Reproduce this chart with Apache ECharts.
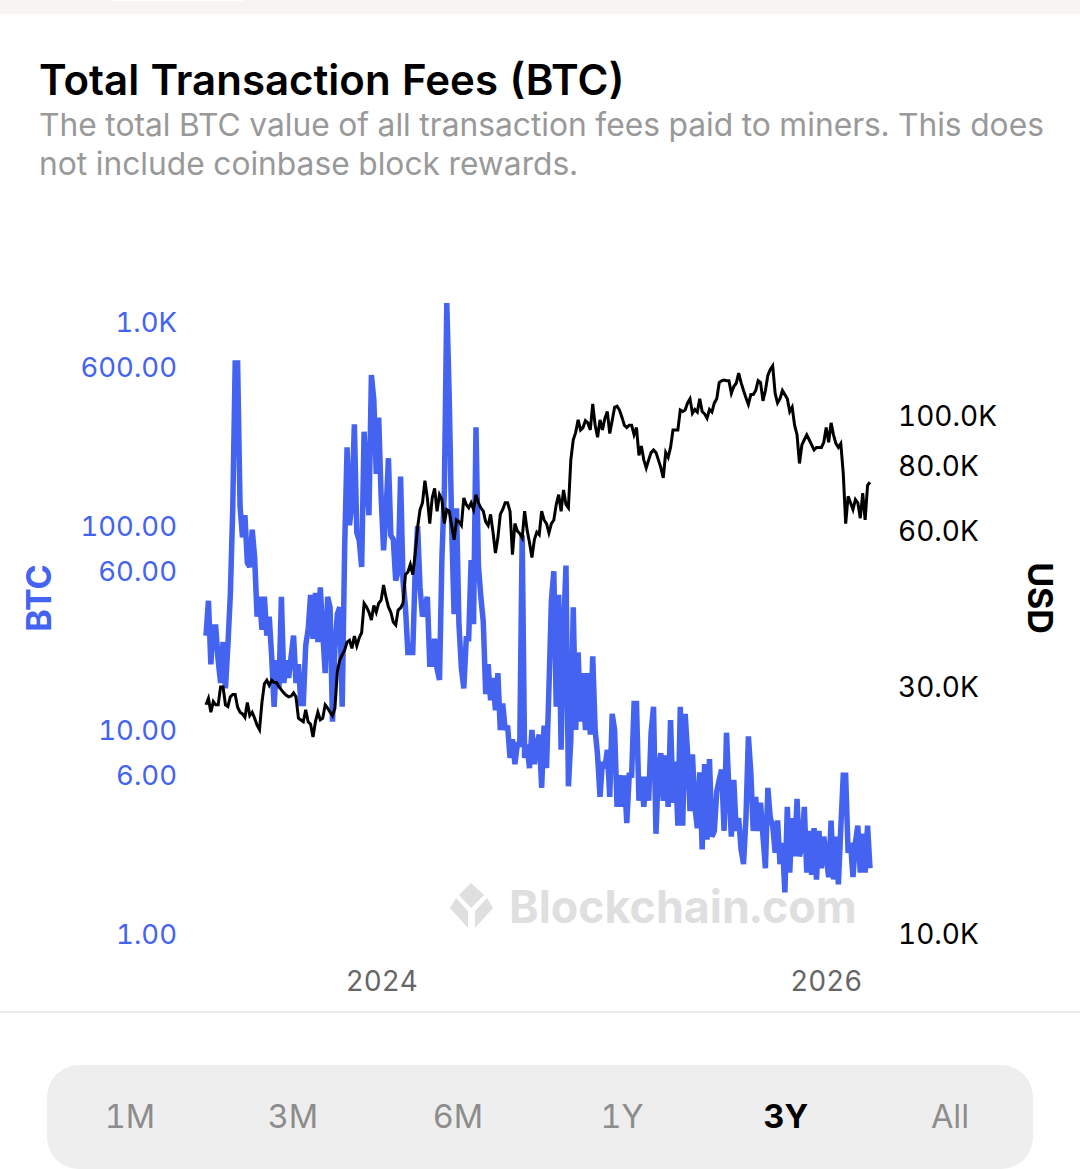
<!DOCTYPE html>
<html>
<head>
<meta charset="utf-8">
<style>
html,body{margin:0;padding:0;background:#fff}
#c{width:1080px;height:1169px}
#c text{font-variant-numeric:tabular-nums !important;font-feature-settings:"tnum" 1 !important}
</style>
<script src="https://cdn.jsdelivr.net/npm/echarts@6/dist/echarts.min.js"></script>
</head>
<body>
<div id="c"></div>
<script>
const title = 'Total Transaction Fees (BTC)';
const subtitle = 'The total BTC value of all transaction fees paid to miners. This does\nnot include coinbase block rewards.';
const rangeLabels = ['1M','3M','6M','1Y','3Y','All'];
const btcTicks = [1,6,10,60,100,600,1000];
const usdTicks = [10000,30000,60000,80000,100000];
const yearTicks = [2024,2026];
const startDate = '2023-03-18';
const stepDays = 4;

const btcFees = [
29,43,21,32,32,22,17,27,16,26,46,122,630,630,125,88,113,66,63,96,70,36,45,31,45,29,36,23,13,22,
16,45,17,22,18,23,29,17,21,13.5,13.5,26,31,46,28,47,27,50,30,19,45,40,11,25,37,40,13,78,243,101,
130,315,93,85,63,290,170,113,550,415,180,340,140,76,115,215,90,86,54,60,175,54,40,24,24,24,60,100,50,36,
40,45,21,21,28,20,17.6,70,150,1240,430,100,37,122,33,20,16,28,28,68,33,305,64,45,34,15,21,14,18,12.5,
19,10,13.5,10,10.5,7.3,9,6.8,8.5,8.5,90,7.3,8.5,6.5,10,6.8,8.5,9.5,5.2,10.5,6.5,16,43,60,13,46,8,30,
64,5.3,9,40,10,24,11,19,10,19,9.5,23,10,7.5,4.7,7,6.5,8,4.7,12,10,4.2,6,4.2,6,3.5,6,6,13.5,13.5,
4.5,5.9,4.2,5.9,4.5,9.7,13,3.1,6.4,7.7,4.5,7.5,4.2,11.2,4.4,7,3.4,13,3.4,12,7.7,4,7.6,4.2,3.3,6.2,2.6,6.8,
2.9,7.2,3,3.2,5,5.7,6.4,3.2,9.7,5,3,5.7,3.2,3.7,2.6,2.2,3.7,9.3,6.2,3.2,4.7,3.2,4.4,3,2.1,5.2,3.7,3.4,
2.5,3.6,2.2,2.8,1.6,4.2,2,3.7,2.4,4.6,2.4,2.7,4.2,2,3.2,1.95,3.3,1.85,3.2,2.1,3,2.4,1.9,3.6,1.85,3,1.75,3.3,
6,6,2.5,2.8,1.9,2.8,3.4,2,3.1,2,3.4,2.1
];

const btcPriceUsd = [
27700,28500,26800,28100,27700,27700,30000,30000,27700,27500,28700,29000,29000,27400,26800,26600,26200,28000,26400,26800,
26100,25300,24800,28000,30400,30900,30200,30900,30600,30600,30000,29600,29200,28900,28700,28800,29200,28700,26100,25900,
25700,27100,25700,25400,24000,25700,26800,25900,26100,27700,27300,26800,26400,27300,32100,33800,34600,35300,36600,36900,
35600,37600,36000,37300,38200,43500,42800,41800,40400,43100,41800,43500,44100,47200,44700,42800,41800,40000,39500,42200,
42600,43500,49400,50000,51700,49400,54000,61000,65900,68000,75000,69500,62000,69500,72500,65500,70500,69000,62000,66000,
65500,61500,57700,63000,62500,61500,69500,67500,66500,68000,66000,70500,68000,66500,65500,62500,61500,64600,59700,54400,
58200,64600,66000,68000,68000,65500,54000,62000,60000,59300,58200,65500,60300,57000,53300,57700,59700,59000,65500,63000,
62000,59500,62000,63000,67500,70500,65500,72000,67500,66500,82300,90000,93000,98300,94000,95000,98000,97000,94000,105500,
96000,91000,98300,94000,99000,102000,92500,98000,104000,104500,102700,99500,96000,95000,96000,96000,92000,95000,84000,87500,
82300,79400,82300,85000,86000,85000,82300,79500,76000,85000,83200,87000,94000,94000,94000,102700,102000,102700,106000,108000,
101300,103000,101800,108000,102000,101000,99000,103000,101800,106000,108000,116000,117000,117400,117000,117000,110600,114000,115700,121000,
116000,112000,108500,105300,110000,110000,112000,117000,116000,107000,112000,119800,123000,125000,110600,106000,108000,112000,110000,108000,
102000,104000,96000,92000,81000,88000,90000,92000,90000,88000,86000,87000,87000,86900,89000,95000,89000,97000,92000,88500,
87000,88500,77600,62000,70000,68000,66000,69000,68000,63500,71000,63000,73500,74500
];

const fontFamily = 'Inter, "Noto Sans", sans-serif';
const blue = '#4463f0';
const DAY = 86400000;
const t0 = new Date(startDate + 'T00:00:00').getTime();
const dates = btcFees.map((_, i) => t0 + i * stepDays * DAY);
const btcData = btcFees.map((v, i) => [dates[i], v]);
const usdData = btcPriceUsd.map((v, i) => [dates[i], v]);
const fmtBtc = v => v >= 1000 ? (v / 1000).toFixed(1) + 'K' : Number(v).toFixed(2);
const fmtUsd = v => (v / 1000).toFixed(1) + 'K';
const fmtYear = v => {
  const d = new Date(v);
  return (d.getMonth() === 0 && d.getDate() === 1 && yearTicks.includes(d.getFullYear())) ? String(d.getFullYear()) : '';
};

const rangeX = [130,293,458,622,786,950];
const graphicEls = [
  {type:'rect', silent:true, z:-10, shape:{x:0,y:0,width:1080,height:14}, style:{fill:'#f6f5f3'}},
  {type:'rect', silent:true, z:-9, shape:{x:110,y:-8,width:135,height:9,r:4}, style:{fill:'#ffffff'}},
  {type:'rect', silent:true, z:-10, shape:{x:0,y:1011,width:1080,height:2}, style:{fill:'#ececec'}},
  {type:'rect', silent:true, z:-10, shape:{x:47,y:1065,width:986,height:104,r:[32,32,32,32]}, style:{fill:'#eeeeee'}},
  {type:'text', silent:true, x:39, y:79, style:{text:title, font:'600 42px '+fontFamily, fill:'#000', textVerticalAlign:'middle'}},
  {type:'text', silent:true, x:39, y:144, style:{text:subtitle, font:'400 31.75px '+fontFamily, fill:'#999999', lineHeight:39, textVerticalAlign:'middle'}},
  {type:'text', silent:true, x:38, y:598, rotation:Math.PI/2, style:{text:'BTC', font:'700 34px '+fontFamily, fill:blue, textAlign:'center', textVerticalAlign:'middle'}},
  {type:'text', silent:true, x:1040, y:598, rotation:-Math.PI/2, style:{text:'USD', font:'700 34px '+fontFamily, fill:'#000', textAlign:'center', textVerticalAlign:'middle'}},
  {type:'polygon', silent:true, z:-5, shape:{points:[[471,883],[484,895],[471,908],[459,895]]}, style:{fill:'#dfdfdf'}},
  {type:'polygon', silent:true, z:-5, shape:{points:[[456,898],[468,911],[468,928],[450,908]]}, style:{fill:'#dfdfdf'}},
  {type:'polygon', silent:true, z:-5, shape:{points:[[487,898],[475,911],[475,928],[493,908]]}, style:{fill:'#dfdfdf'}},
  {type:'text', silent:true, z:-5, x:509, y:907, style:{text:'Blockchain.com', font:'700 44.8px '+fontFamily, fill:'#dfdfdf', textVerticalAlign:'middle'}}
];
rangeLabels.forEach((t, i) => graphicEls.push({
  type:'text', silent:true, x:rangeX[i], y:1116,
  style:{text:t, font:(t==='3Y'?'700':'400')+' 32.5px '+fontFamily, fill:t==='3Y'?'#000':'#8c8c8c', textAlign:'center', textVerticalAlign:'middle'}
}));

const chart = echarts.init(document.getElementById('c'), null, {renderer:'svg', width:1080, height:1169});
chart.setOption({
  animation:false,
  backgroundColor:'#fff',
  textStyle:{fontFamily},
  graphic:{elements:graphicEls},
  grid:{left:206, right:210, top:303, bottom:235, containLabel:false},
  xAxis:{
    type:'time',
    min:t0, max:dates[dates.length-1],
    axisLine:{show:false}, axisTick:{show:false}, splitLine:{show:false},
    axisLabel:{
      formatter:fmtYear, showMinLabel:false, showMaxLabel:false,
      color:'#666666', fontSize:27.8, margin:33, fontFamily, hideOverlap:false, interval:0
    }
  },
  yAxis:[
    {type:'log', logBase:10, min:1, max:1240, position:'left',
     axisLine:{show:false}, axisTick:{show:false}, splitLine:{show:false},
     axisLabel:{customValues:btcTicks, formatter:fmtBtc, color:blue, fontSize:27.5, margin:29, padding:[4,0,0,0], fontFamily}},
    {type:'log', logBase:10, min:10000, max:165300, position:'right',
     axisLine:{show:false}, axisTick:{show:false}, splitLine:{show:false},
     axisLabel:{customValues:usdTicks, formatter:fmtUsd, color:'#000', fontSize:28, margin:28, padding:[4,0,0,0], fontFamily}}
  ],
  series:[
    {name:'BTC', type:'line', yAxisIndex:0, data:btcData, showSymbol:false, smooth:false, lineStyle:{color:blue, width:5.5, join:'miter', miterLimit:2}, itemStyle:{color:blue}, z:2},
    {name:'USD', type:'line', yAxisIndex:1, data:usdData, showSymbol:false, smooth:false, lineStyle:{color:'#000', width:3, join:'miter'}, itemStyle:{color:'#000'}, z:3}
  ]
});
</script>
</body>
</html>
